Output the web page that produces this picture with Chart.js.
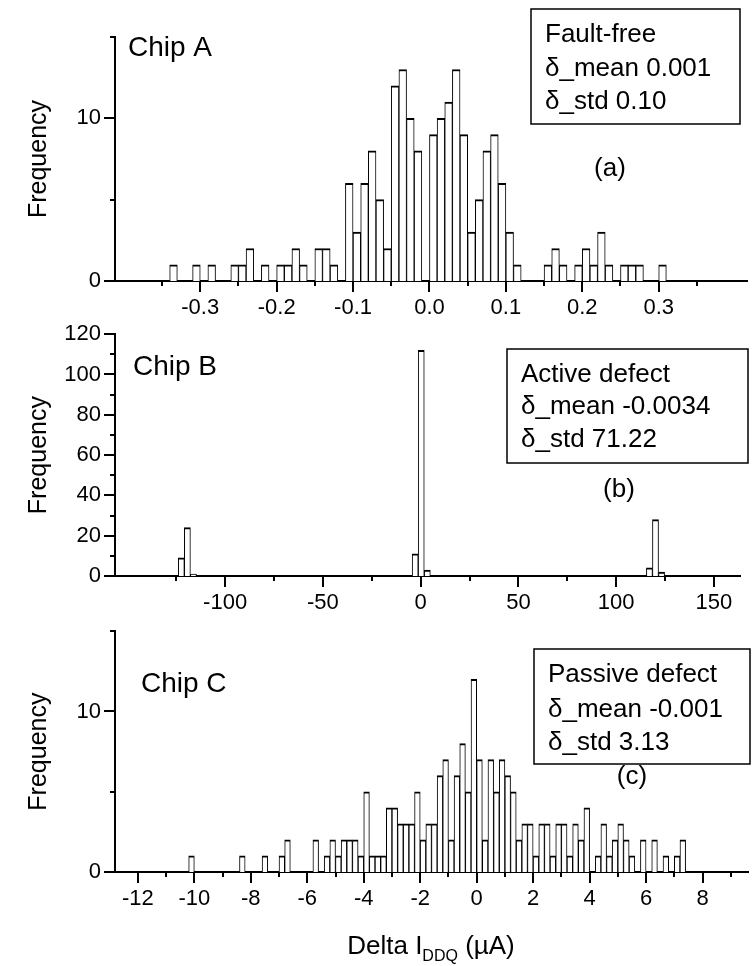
<!DOCTYPE html>
<html>
<head>
<meta charset="utf-8">
<title>Delta IDDQ histograms</title>
<script src="https://cdn.jsdelivr.net/npm/chart.js@4.4.1/dist/chart.umd.min.js"></script>
<style>
  html, body { margin: 0; padding: 0; background: #fff; }
  #page { position: relative; width: 756px; height: 966px; }
  canvas { position: absolute; left: 0; }
</style>
</head>
<body>
<div id="page">
  <canvas id="chartA" width="756" height="318" style="top:0"></canvas>
  <canvas id="chartB" width="756" height="297" style="top:318px"></canvas>
  <canvas id="chartC" width="756" height="351" style="top:615px"></canvas>
</div>
<script>
// Chip A, fault-free: bin centres (uA, 0.01 wide bins) and counts
const binsA = [-0.335, -0.305, -0.285, -0.255, -0.245, -0.235, -0.215, -0.195, -0.185, -0.175,
  -0.165, -0.145, -0.135, -0.125, -0.105, -0.095, -0.085, -0.075, -0.065, -0.055,
  -0.045, -0.035, -0.025, -0.015, 0.005, 0.015, 0.025, 0.035, 0.045, 0.055,
  0.065, 0.075, 0.085, 0.095, 0.105, 0.115, 0.155, 0.165, 0.175, 0.195,
  0.205, 0.215, 0.225, 0.235, 0.255, 0.265, 0.275, 0.305];
const countsA = [1, 1, 1, 1, 1, 2, 1, 1, 1, 2,
  1, 2, 2, 1, 6, 3, 6, 8, 5, 2,
  12, 13, 10, 8, 9, 10, 11, 13, 9, 3,
  5, 8, 9, 6, 3, 1, 1, 2, 1, 1,
  2, 1, 3, 1, 1, 1, 1, 1];

// Chip B, active defect
const binsB = [-122.4, -119.3, -116.2, -2.8, 0.3, 3.4, 117.0, 120.1, 123.2];
const countsB = [9, 24, 1, 11, 112, 3, 4, 28, 2];

// Chip C, passive defect (0.2 wide bins)
const binsC = [-10.1, -8.3, -7.5, -6.9, -6.7, -5.7, -5.3, -5.1, -4.9, -4.7,
  -4.5, -4.3, -4.1, -3.9, -3.7, -3.5, -3.3, -3.1, -2.9, -2.7,
  -2.5, -2.3, -2.1, -1.9, -1.7, -1.5, -1.3, -1.1, -0.9, -0.7,
  -0.5, -0.3, -0.1, 0.1, 0.3, 0.5, 0.7, 0.9, 1.1, 1.3,
  1.5, 1.7, 1.9, 2.1, 2.3, 2.5, 2.7, 2.9, 3.1, 3.3,
  3.5, 3.7, 3.9, 4.3, 4.5, 4.7, 4.9, 5.1, 5.3, 5.5,
  5.9, 6.3, 6.7, 7.1, 7.3];
const countsC = [1, 1, 1, 1, 2, 2, 1, 2, 1, 2,
  2, 2, 1, 5, 1, 1, 1, 4, 4, 3,
  3, 3, 5, 2, 3, 3, 6, 7, 2, 6,
  8, 5, 12, 7, 2, 7, 5, 7, 6, 5,
  2, 3, 3, 1, 3, 3, 1, 3, 3, 1,
  3, 2, 4, 1, 3, 1, 2, 3, 2, 1,
  2, 2, 1, 1, 2];

const FONT = '"Liberation Sans", Arial, Helvetica, sans-serif';

// origin-style tick marks, text notes and the stats box
const originDecor = {
  id: 'originDecor',
  afterDraw(chart, args, opts) {
    const ctx = chart.ctx;
    const area = chart.chartArea;
    const xs = chart.scales.x;
    const ys = chart.scales.y;
    ctx.save();
    ctx.strokeStyle = '#000';
    ctx.lineWidth = 2;
    xs.ticks.forEach((t, i) => {
      const px = Math.round(xs.getPixelForTick(i));
      const len = t.label !== '' ? 11 : 5;
      ctx.beginPath();
      ctx.moveTo(px, area.bottom);
      ctx.lineTo(px, area.bottom + len);
      ctx.stroke();
    });
    ys.ticks.forEach((t, i) => {
      const py = Math.round(ys.getPixelForTick(i));
      const len = t.label !== '' ? 11 : 5;
      ctx.beginPath();
      ctx.moveTo(area.left, py);
      ctx.lineTo(area.left - len, py);
      ctx.stroke();
    });

    ctx.fillStyle = '#000';
    ctx.textBaseline = 'alphabetic';
    (opts.texts || []).forEach(n => {
      ctx.font = n.size + 'px ' + FONT;
      ctx.textAlign = n.align || 'left';
      ctx.fillText(n.text, n.x, n.y);
    });

    if (opts.box) {
      const b = opts.box;
      ctx.lineWidth = 1.5;
      ctx.strokeRect(b.x, b.y, b.w, b.h);
    }

    if (opts.xTitle) {
      // Delta I_DDQ (uA) with a subscript
      const t = opts.xTitle;
      ctx.textAlign = 'left';
      const big = t.size + 'px ' + FONT;
      const small = Math.round(t.size * 0.6) + 'px ' + FONT;
      ctx.font = big;
      const w1 = ctx.measureText('Delta I').width;
      const w3 = ctx.measureText(' (\u00b5A)').width;
      ctx.font = small;
      const w2 = ctx.measureText('DDQ').width;
      let x = t.x - (w1 + w2 + w3) / 2;
      ctx.font = big;
      ctx.fillText('Delta I', x, t.y);
      x += w1;
      ctx.font = small;
      ctx.fillText('DDQ', x, t.y + 7);
      x += w2;
      ctx.font = big;
      ctx.fillText(' (\u00b5A)', x, t.y);
    }
    ctx.restore();
  }
};

function makeHist(canvasId, bins, counts, cfg) {
  const ctx = document.getElementById(canvasId).getContext('2d');
  return new Chart(ctx, {
    type: 'bar',
    data: {
      datasets: [{
        data: bins.map((b, i) => ({ x: b, y: counts[i] })),
        backgroundColor: '#fff',
        borderColor: '#000',
        borderWidth: { top: 2, left: 1, right: 1, bottom: 0 },
        barPercentage: 1,
        categoryPercentage: 1
      }]
    },
    options: {
      responsive: false,
      animation: false,
      events: [],
      layout: {
        autoPadding: false,
        padding: { top: cfg.padTop, right: cfg.padRight, left: 0, bottom: 0 }
      },
      plugins: {
        legend: { display: false },
        tooltip: { enabled: false },
        originDecor: cfg.decor
      },
      scales: {
        x: {
          type: 'linear',
          min: cfg.xMin,
          max: cfg.xMax,
          grid: { display: false, drawTicks: true, tickLength: 11 },
          border: { display: true, color: '#000', width: 2 },
          afterFit: s => { s.height = cfg.xAxisHeight; },
          ticks: {
            stepSize: cfg.xStep,
            includeBounds: false,
            autoSkip: false,
            maxRotation: 0,
            padding: 3,
            color: '#000',
            font: { family: FONT, size: 22 },
            callback: cfg.xLabel
          }
        },
        y: {
          min: 0,
          max: cfg.yMax,
          grid: { display: false, drawTicks: true, tickLength: 11 },
          border: { display: true, color: '#000', width: 2 },
          afterFit: s => { s.width = 115; },
          title: {
            display: true,
            text: 'Frequency',
            color: '#000',
            font: { family: FONT, size: 25 },
            padding: { top: 24, bottom: 0 }
          },
          ticks: {
            stepSize: cfg.yStep,
            autoSkip: false,
            padding: 3,
            color: '#000',
            font: { family: FONT, size: 22 },
            callback: cfg.yLabel
          }
        }
      }
    },
    plugins: [originDecor]
  });
}

const near = (v, step) => Math.abs(v / step - Math.round(v / step)) < 1e-6;

makeHist('chartA', binsA, countsA, {
  padTop: 37, padRight: 9, xAxisHeight: 37,
  xMin: -0.384, xMax: 0.388, xStep: 0.05,
  xLabel: v => near(v, 0.1) ? v.toFixed(1) : '',
  yMax: 15, yStep: 5,
  yLabel: v => v % 10 === 0 ? String(v) : '',
  decor: {
    texts: [
      { text: 'Chip A', x: 128, y: 56, size: 28 },
      { text: 'Fault-free', x: 545, y: 42, size: 26 },
      { text: '\u03b4_mean 0.001', x: 545, y: 76, size: 26 },
      { text: '\u03b4_std 0.10', x: 545, y: 109, size: 26 },
      { text: '(a)', x: 610, y: 176, size: 26, align: 'center' }
    ],
    box: { x: 531, y: 9, w: 209, h: 115 }
  }
});

makeHist('chartB', binsB, countsB, {
  padTop: 13, padRight: 16, xAxisHeight: 39,
  xMin: -143, xMax: 150, xStep: 25,
  xLabel: v => v % 50 === 0 ? String(v) : '',
  yMax: 120, yStep: 10,
  yLabel: v => v % 20 === 0 ? String(v) : '',
  decor: {
    texts: [
      { text: 'Chip B', x: 133, y: 375 - 318, size: 28 },
      { text: 'Active defect', x: 521, y: 382 - 318, size: 26 },
      { text: '\u03b4_mean -0.0034', x: 521, y: 414 - 318, size: 26 },
      { text: '\u03b4_std 71.22', x: 521, y: 447 - 318, size: 26 },
      { text: '(b)', x: 619, y: 497 - 318, size: 26, align: 'center' }
    ],
    box: { x: 507, y: 349 - 318, w: 241, h: 114 }
  }
});

makeHist('chartC', binsC, countsC, {
  padTop: 15, padRight: 8, xAxisHeight: 94,
  xMin: -12.3, xMax: 9.1, xStep: 1,
  xLabel: v => v % 2 === 0 ? String(v) : '',
  yMax: 15, yStep: 5,
  yLabel: v => v % 10 === 0 ? String(v) : '',
  decor: {
    texts: [
      { text: 'Chip C', x: 141, y: 692 - 615, size: 28 },
      { text: 'Passive defect', x: 548, y: 682 - 615, size: 26 },
      { text: '\u03b4_mean -0.001', x: 548, y: 717 - 615, size: 26 },
      { text: '\u03b4_std 3.13', x: 548, y: 750 - 615, size: 26 },
      { text: '(c)', x: 632, y: 784 - 615, size: 26, align: 'center' }
    ],
    box: { x: 534, y: 649 - 615, w: 216, h: 115 },
    xTitle: { x: 431, y: 954 - 615, size: 26 }
  }
});
</script>
</body>
</html>
